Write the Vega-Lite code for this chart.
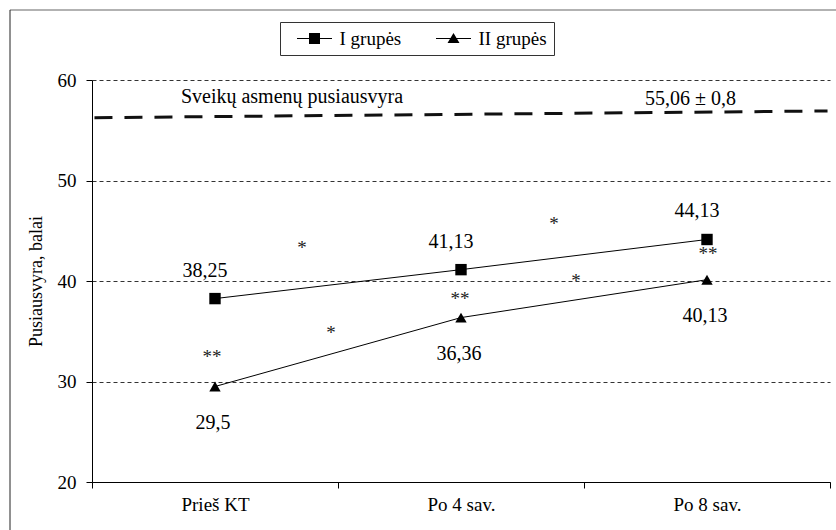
{
  "$schema": "https://vega.github.io/schema/vega-lite/v6.json",
  "width": 738,
  "height": 402,
  "autosize": {"type": "none"},
  "padding": {"left": 92, "top": 80, "right": 6, "bottom": 48},
  "background": "white",
  "config": {
    "view": {"stroke": null},
    "font": "Liberation Serif",
    "locale": {"number": {"decimal": ",", "thousands": " ", "grouping": [3], "currency": ["", " €"]}}
  },
  "datasets": {
    "series": [
      {"period": "Prieš KT", "t": 0, "group": "I grupės", "v": 38.25},
      {"period": "Po 4 sav.", "t": 1, "group": "I grupės", "v": 41.13},
      {"period": "Po 8 sav.", "t": 2, "group": "I grupės", "v": 44.13},
      {"period": "Prieš KT", "t": 0, "group": "II grupės", "v": 29.5},
      {"period": "Po 4 sav.", "t": 1, "group": "II grupės", "v": 36.36},
      {"period": "Po 8 sav.", "t": 2, "group": "II grupės", "v": 40.13}
    ],
    "healthy": [
      {"t": -0.49, "v": 56.25},
      {"t": 2.49, "v": 56.92}
    ],
    "healthyNotes": [
      {"t": 0.313, "v": 57.71, "note": "Sveikų asmenų pusiausvyra"},
      {"t": 1.933, "v": 57.56, "note": "55,06 ± 0,8"}
    ],
    "stars": [
      {"t": 0.354, "v": 42.69, "note": "*"},
      {"t": 0.472, "v": 34.23, "note": "*"},
      {"t": -0.012, "v": 31.84, "note": "**"},
      {"t": 1.378, "v": 45.07, "note": "*"},
      {"t": 1.467, "v": 39.4, "note": "*"},
      {"t": 0.996, "v": 37.61, "note": "**"},
      {"t": 2.004, "v": 42.09, "note": "**"}
    ]
  },
  "layer": [
    {
      "data": {"name": "series"},
      "mark": {"type": "line", "color": "black", "strokeWidth": 1},
      "encoding": {
        "x": {
          "field": "t",
          "type": "quantitative",
          "scale": {"domain": [-0.5, 2.5], "nice": false, "zero": false},
          "axis": {
            "values": [-0.5, 0.5, 1.5, 2.5],
            "labelExpr": "datum.value < 0 ? 'Prieš KT' : datum.value < 1 ? 'Po 4 sav.' : datum.value < 2 ? 'Po 8 sav.' : ''",
            "labelOffset": 123,
            "labelAlign": "center",
            "labelFont": "Liberation Serif",
            "labelFontSize": 19,
            "labelColor": "black",
            "labelPadding": 7,
            "labelFlush": false,
            "labelOverlap": false,
            "labelBound": false,
            "tickSize": 6,
            "tickColor": "black",
            "domainColor": "black",
            "grid": false,
            "title": null
          }
        },
        "y": {
          "field": "v",
          "type": "quantitative",
          "scale": {"domain": [20, 60], "nice": false, "zero": false},
          "axis": {
            "values": [20, 30, 40, 50, 60],
            "format": "d",
            "grid": true,
            "gridDash": [4, 3],
            "gridColor": "#333",
            "gridWidth": 1,
            "tickSize": 6,
            "tickColor": "black",
            "domainColor": "black",
            "labelFont": "Liberation Serif",
            "labelFontSize": 19,
            "labelColor": "black",
            "labelPadding": 10,
            "title": "Pusiausvyra, balai",
            "titleFont": "Liberation Serif",
            "titleFontSize": 18,
            "titleFontWeight": "normal",
            "titleColor": "black",
            "titlePadding": 12
          }
        },
        "detail": {"field": "group"}
      }
    },
    {
      "data": {"values": [{}]},
      "mark": {"type": "rule", "color": "#999", "strokeWidth": 1.5},
      "encoding": {
        "x": {"datum": -0.8333, "type": "quantitative"},
        "x2": {"datum": 2.7},
        "y": {"datum": 66.97, "type": "quantitative"}
      }
    },
    {
      "data": {"values": [{}]},
      "mark": {"type": "rule", "color": "#222", "strokeWidth": 1},
      "encoding": {
        "x": {"datum": -0.8333, "type": "quantitative"},
        "y": {"datum": 66.97, "type": "quantitative"},
        "y2": {"datum": 14}
      }
    },
    {
      "data": {"name": "healthy"},
      "mark": {"type": "line", "color": "#111", "strokeWidth": 3, "strokeDash": [18, 12]},
      "encoding": {
        "x": {"field": "t", "type": "quantitative"},
        "y": {"field": "v", "type": "quantitative"}
      }
    },
    {
      "data": {"name": "healthyNotes"},
      "mark": {"type": "text", "font": "Liberation Serif", "fontSize": 20, "color": "black", "align": "center", "baseline": "alphabetic"},
      "encoding": {
        "x": {"field": "t", "type": "quantitative"},
        "y": {"field": "v", "type": "quantitative"},
        "text": {"field": "note"}
      }
    },
    {
      "data": {"name": "series"},
      "mark": {"type": "point", "filled": true, "opacity": 0, "color": "black"},
      "encoding": {
        "x": {"field": "t", "type": "quantitative"},
        "y": {"field": "v", "type": "quantitative"},
        "shape": {
          "field": "group",
          "type": "nominal",
          "scale": {
            "domain": ["I grupės", "II grupės"],
            "range": ["M-1.75,-0.05H1.75V0.05H-1.75ZM-0.55,-0.55H0.55V0.55H-0.55Z", "M-1.75,-0.05H1.75V0.05H-1.75ZM0,-0.55L0.6,0.45H-0.6Z"]
          },
          "legend": {
            "orient": "none",
            "legendX": 188,
            "legendY": -58,
            "direction": "horizontal",
            "title": null,
            "symbolSize": 400,
            "symbolOffset": 18,
            "symbolFillColor": "black",
            "symbolStrokeWidth": 0,
            "symbolOpacity": 1,
            "labelFont": "Liberation Serif",
            "labelFontSize": 19,
            "labelColor": "black",
            "labelOffset": 15,
            "labelExpr": "datum.label == 'II grupės' ? datum.label + '\u00a0\u00a0\u00a0\u00a0\u00a0\u00a0' : datum.label",
            "columnPadding": 24,
            "padding": 6.5,
            "strokeColor": "#333",
            "fillColor": "white"
          }
        }
      }
    },
    {
      "data": {"name": "series"},
      "mark": {"type": "point", "filled": true, "color": "black", "opacity": 1, "size": 130},
      "encoding": {
        "x": {"field": "t", "type": "quantitative"},
        "y": {"field": "v", "type": "quantitative"},
        "shape": {
          "field": "group",
          "type": "nominal",
          "scale": {"domain": ["I grupės", "II grupės"], "range": ["square", "triangle-up"]},
          "legend": null
        }
      }
    },
    {
      "data": {"name": "series"},
      "transform": [{"filter": "datum.group == 'I grupės'"}],
      "mark": {"type": "text", "font": "Liberation Serif", "fontSize": 20, "color": "black", "align": "center", "baseline": "alphabetic", "dx": -10, "dy": -22},
      "encoding": {
        "x": {"field": "t", "type": "quantitative"},
        "y": {"field": "v", "type": "quantitative"},
        "text": {"field": "v", "type": "quantitative", "format": "~g"}
      }
    },
    {
      "data": {"name": "series"},
      "transform": [{"filter": "datum.group == 'II grupės'"}],
      "mark": {"type": "text", "font": "Liberation Serif", "fontSize": 20, "color": "black", "align": "center", "baseline": "alphabetic", "dx": -2, "dy": 42},
      "encoding": {
        "x": {"field": "t", "type": "quantitative"},
        "y": {"field": "v", "type": "quantitative"},
        "text": {"field": "v", "type": "quantitative", "format": "~g"}
      }
    },
    {
      "data": {"name": "stars"},
      "mark": {"type": "text", "font": "Liberation Serif", "fontSize": 19, "color": "#222", "align": "center", "baseline": "alphabetic"},
      "encoding": {
        "x": {"field": "t", "type": "quantitative"},
        "y": {"field": "v", "type": "quantitative"},
        "text": {"field": "note"}
      }
    }
  ],
  "resolve": {"scale": {"shape": "independent"}, "legend": {"shape": "independent"}}
}
